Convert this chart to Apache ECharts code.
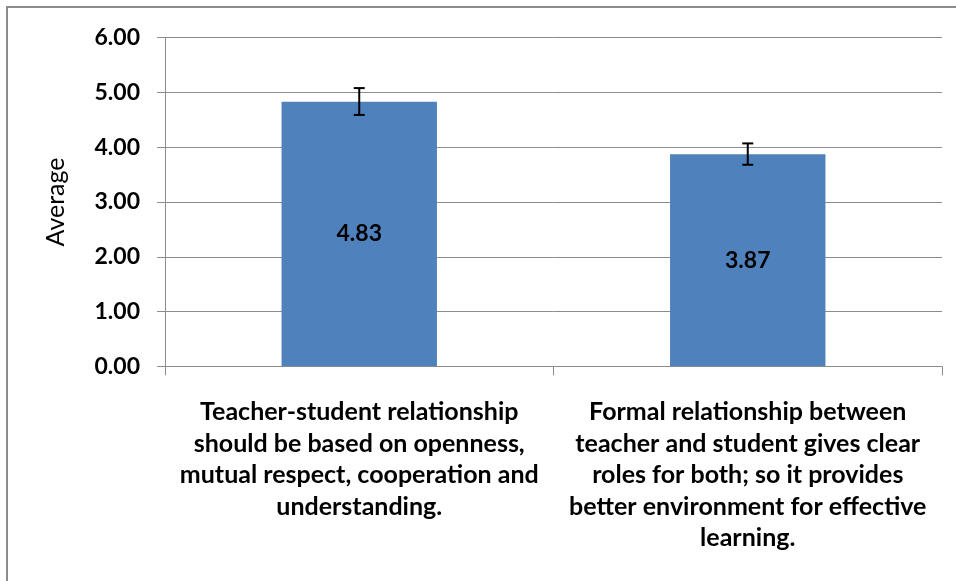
<!DOCTYPE html>
<html>
<head>
<meta charset="utf-8">
<script src="https://cdn.jsdelivr.net/npm/echarts@6/dist/echarts.min.js"></script>
<style>
html,body{margin:0;padding:0;background:#fff;}
#c{width:956px;height:581px;}
</style>
</head>
<body>
<div id="c"></div>
<script>
var categories = [
  "Teacher-student relationship\nshould be based on openness,\nmutual respect, cooperation and\nunderstanding.",
  "Formal relationship between\nteacher and student gives clear\nroles for both; so it provides\nbetter environment for effective\nlearning."
];
var values = [4.83, 3.87];
var errLow = [4.59, 3.68];
var errHigh = [5.08, 4.07];
var yTicks = [0, 1, 2, 3, 4, 5, 6];

var chart = echarts.init(document.getElementById('c'), null, {renderer: 'canvas'});
var FONT = 'Lato';
var errData = categories.map(function (c, i) { return [i, errLow[i], errHigh[i]]; });

chart.setOption({
  animation: false,
  backgroundColor: '#fff',
  graphic: [{
    type: 'rect',
    shape: {x: 7, y: 7, width: 1000, height: 1000},
    style: {fill: 'none', stroke: '#8c8c8c', lineWidth: 2},
    silent: true
  }],
  grid: {left: 165, right: 14, top: 37.7, bottom: 214.7},
  xAxis: {
    type: 'category',
    data: categories,
    boundaryGap: true,
    axisLine: {show: true, lineStyle: {color: '#8c8c8c', width: 1}},
    axisTick: {show: true, length: 9, lineStyle: {color: '#8c8c8c'}},
    axisLabel: {
      interval: 0,
      margin: 30,
      color: '#000',
      fontFamily: FONT,
      fontWeight: 'bold',
      fontSize: 25,
      lineHeight: 31.5,
      align: 'center'
    }
  },
  yAxis: {
    type: 'value',
    min: yTicks[0],
    max: yTicks[yTicks.length - 1],
    interval: 1,
    name: 'Average',
    nameLocation: 'middle',
    nameRotate: 90,
    nameGap: 97,
    nameTextStyle: {color: '#000', fontFamily: FONT, fontSize: 25},
    axisLine: {show: true, lineStyle: {color: '#8c8c8c', width: 1}},
    axisTick: {show: true, length: 8, lineStyle: {color: '#8c8c8c'}},
    splitLine: {show: true, lineStyle: {color: '#8c8c8c', width: 1}},
    axisLabel: {
      margin: 25,
      color: '#000',
      fontFamily: FONT,
      fontWeight: 'bold',
      fontSize: 23,
      formatter: function (v) { return v.toFixed(2); }
    }
  },
  series: [{
    type: 'bar',
    data: values,
    barWidth: '40%',
    itemStyle: {color: '#4F81BD'},
    label: {
      show: true,
      position: 'inside',
      color: '#000',
      fontFamily: FONT,
      fontWeight: 'bold',
      fontSize: 23,
      formatter: function (p) { return p.value.toFixed(2); }
    },
    z: 2
  }, {
    type: 'custom',
    data: errData,
    z: 5,
    renderItem: function (params, api) {
      var x = api.value(0);
      var lo = api.coord([x, api.value(1)]);
      var hi = api.coord([x, api.value(2)]);
      var hw = 5.5;
      var st = {stroke: '#000', lineWidth: 2};
      return {
        type: 'group',
        children: [
          {type: 'line', shape: {x1: lo[0], y1: lo[1], x2: hi[0], y2: hi[1]}, style: st},
          {type: 'line', shape: {x1: lo[0] - hw, y1: lo[1], x2: lo[0] + hw, y2: lo[1]}, style: st},
          {type: 'line', shape: {x1: hi[0] - hw, y1: hi[1], x2: hi[0] + hw, y2: hi[1]}, style: st}
        ]
      };
    }
  }]
});
</script>
</body>
</html>
